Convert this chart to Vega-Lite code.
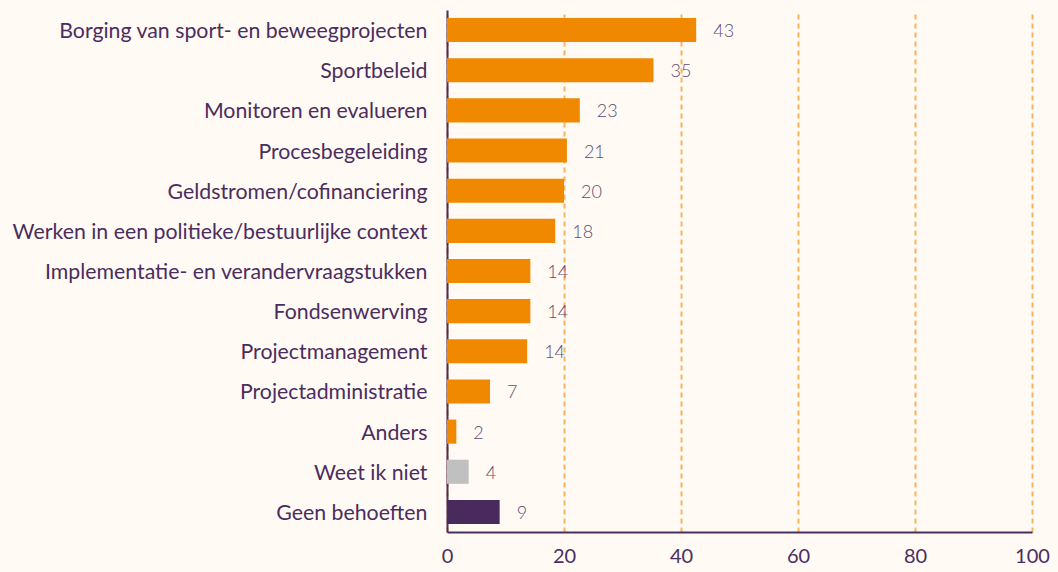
{
  "$schema": "https://vega.github.io/schema/vega-lite/v6.json",
  "autosize": "none",
  "width": 585,
  "height": 522,
  "padding": {"left": 447, "top": 10, "right": 26, "bottom": 40},
  "background": "#fffaf4",
  "config": {
    "view": {"stroke": null},
    "font": "Lato"
  },
  "data": {
    "values": [
      {"cat": "Borging van sport- en beweegprojecten", "value": 42.6, "label": "43", "group": "a"},
      {"cat": "Sportbeleid", "value": 35.3, "label": "35", "group": "a"},
      {"cat": "Monitoren en evalueren", "value": 22.7, "label": "23", "group": "a"},
      {"cat": "Procesbegeleiding", "value": 20.5, "label": "21", "group": "a"},
      {"cat": "Geldstromen/cofinanciering", "value": 20.0, "label": "20", "group": "a"},
      {"cat": "Werken in een politieke/bestuurlijke context", "value": 18.5, "label": "18", "group": "a"},
      {"cat": "Implementatie- en verandervraagstukken ", "value": 14.25, "label": "14", "group": "a"},
      {"cat": "Fondsenwerving", "value": 14.25, "label": "14", "group": "a"},
      {"cat": "Projectmanagement", "value": 13.7, "label": "14", "group": "a"},
      {"cat": "Projectadministratie", "value": 7.35, "label": "7", "group": "a"},
      {"cat": "Anders", "value": 1.6, "label": "2", "group": "a"},
      {"cat": "Weet ik niet", "value": 3.7, "label": "4", "group": "b"},
      {"cat": "Geen behoeften", "value": 9.0, "label": "9", "group": "c"}
    ]
  },
  "encoding": {
    "y": {
      "field": "cat", "type": "nominal", "sort": null,
      "scale": {"paddingInner": 0.4, "paddingOuter": 0.2},
      "axis": {
        "title": null, "ticks": false, "labelPadding": 20, "labelOffset": 2,
        "labelFontSize": 21.3, "labelColor": "#4a2d5e", "labelLimit": 500,
        "domainColor": "#4a2d5e", "domainWidth": 2
      }
    },
    "x": {
      "field": "value", "type": "quantitative",
      "scale": {"domain": [0, 100], "nice": false},
      "axis": {
        "title": null, "values": [0, 20, 40, 60, 80, 100], "ticks": false,
        "labelPadding": 14, "labelFontSize": 20, "labelColor": "#4a2d5e",
        "domainColor": "#4a2d5e", "domainWidth": 2,
        "grid": true, "gridColor": "#f9b25a", "gridDash": [5, 4], "gridWidth": 2,
        "labelFlush": false
      }
    }
  },
  "layer": [
    {
      "mark": {"type": "bar"},
      "encoding": {
        "color": {
          "field": "group", "type": "nominal", "legend": null,
          "scale": {"domain": ["a", "b", "c"], "range": ["#f08900", "#c0c0c0", "#482b5c"]}
        }
      }
    },
    {
      "mark": {"type": "text", "align": "left", "dx": 17, "dy": 2, "fontSize": 18, "fontWeight": 300, "color": "#5e4d75"},
      "encoding": {"text": {"field": "label"}}
    }
  ]
}
